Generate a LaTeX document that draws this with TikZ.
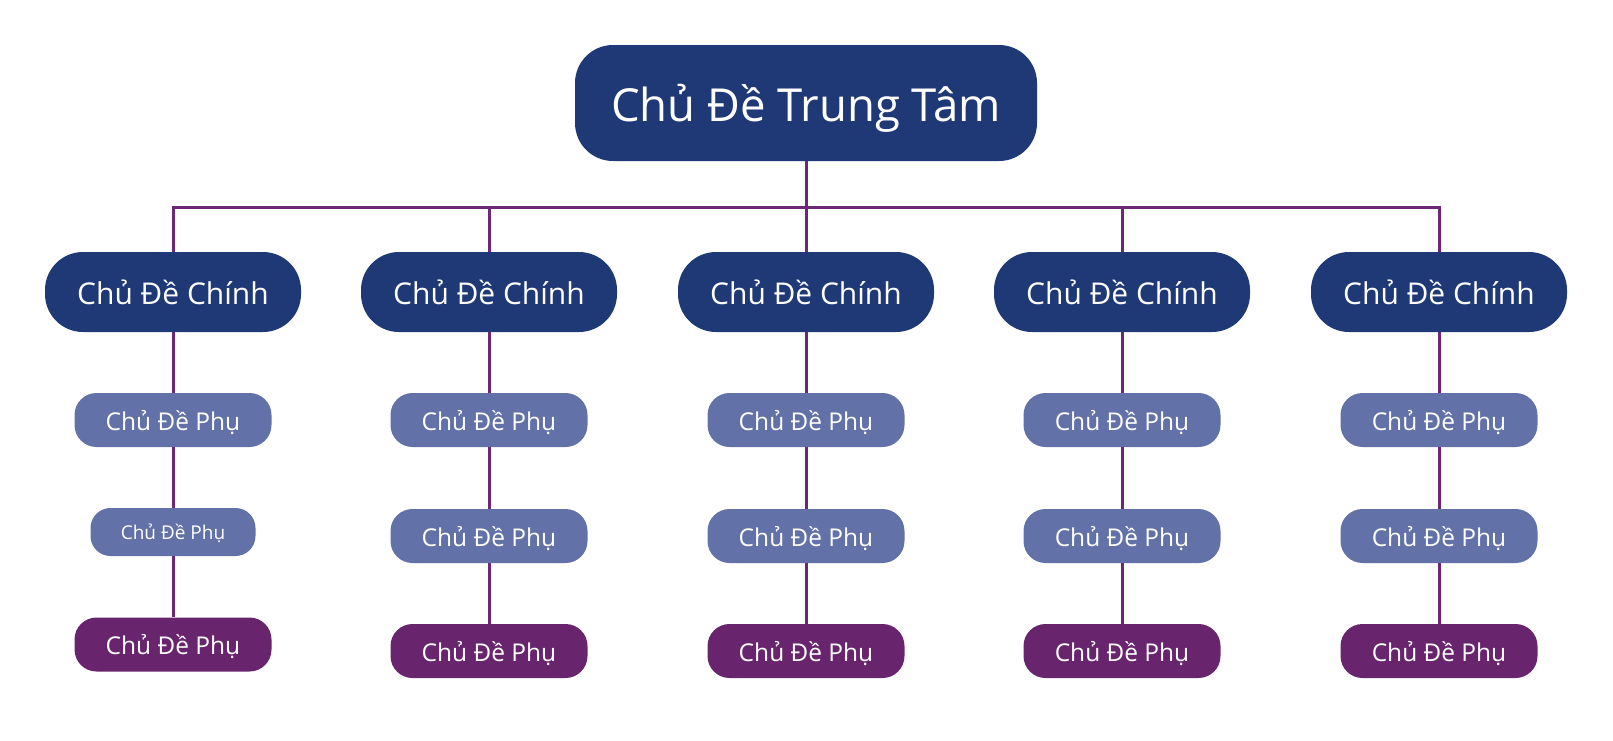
\documentclass[tikz,border=0pt]{standalone}
\usepackage{fontspec}
\setmainfont{Open Sans}
\definecolor{topicnavy}{RGB}{31,57,118}
\definecolor{subslate}{RGB}{98,114,168}
\definecolor{leafplum}{RGB}{104,37,110}
\definecolor{linkplum}{RGB}{108,40,118}
\tikzset{
  rootbox/.style={fill=topicnavy, text=white, inner sep=0pt, text depth=0pt,
    minimum width=462pt, minimum height=116pt, rounded corners=38pt,
    font=\fontsize{45.5}{52}\selectfont},
  topicbox/.style={fill=topicnavy, text=white, inner sep=0pt,
    minimum width=256pt, minimum height=80pt, rounded corners=38pt,
    font=\fontsize{30}{36}\selectfont},
  subbox/.style={fill=subslate, text=white, inner sep=0pt, text depth=0pt,
    minimum width=197pt, minimum height=54pt, rounded corners=22pt,
    font=\fontsize{24.5}{29}\selectfont},
  smallsub/.style={subbox, minimum width=165pt, minimum height=48pt,
    rounded corners=20pt, font=\fontsize{19}{23}\selectfont},
  leafbox/.style={subbox, fill=leafplum},
  link/.style={draw=linkplum, line width=3pt}
}
\begin{document}
\begin{tikzpicture}[x=1pt,y=-1pt]
\useasboundingbox (0,0) rectangle (1613,740);
% central topic
\node[rootbox] (root) at (806,103) {Chủ Đề Trung Tâm};
\coordinate (bus) at (806,207);
% main topics
\foreach \i/\x in {1/173,2/489,3/806,4/1122,5/1439}{
  \node[topicbox] (m\i) at (\x,292) {Chủ Đề Chính};
  \draw[link] (root.south) -- (root.south |- bus) -| (m\i.north);
}
% first column
\node[subbox] (s1a) at (173,420) {Chủ Đề Phụ};
\node[smallsub] (s1b) at (173,532) {Chủ Đề Phụ};
\node[leafbox] (s1c) at (173,644.5) {Chủ Đề Phụ};
\draw[link] (m1) -- (s1a) -- (s1b) -- (s1c);
% other columns
\foreach \i/\x in {2/489,3/806,4/1122,5/1439}{
  \node[subbox] (s\i a) at (\x,420) {Chủ Đề Phụ};
  \node[subbox] (s\i b) at (\x,536) {Chủ Đề Phụ};
  \node[leafbox] (s\i c) at (\x,651) {Chủ Đề Phụ};
  \draw[link] (m\i) -- (s\i a) -- (s\i b) -- (s\i c);
}
\end{tikzpicture}
\end{document}
